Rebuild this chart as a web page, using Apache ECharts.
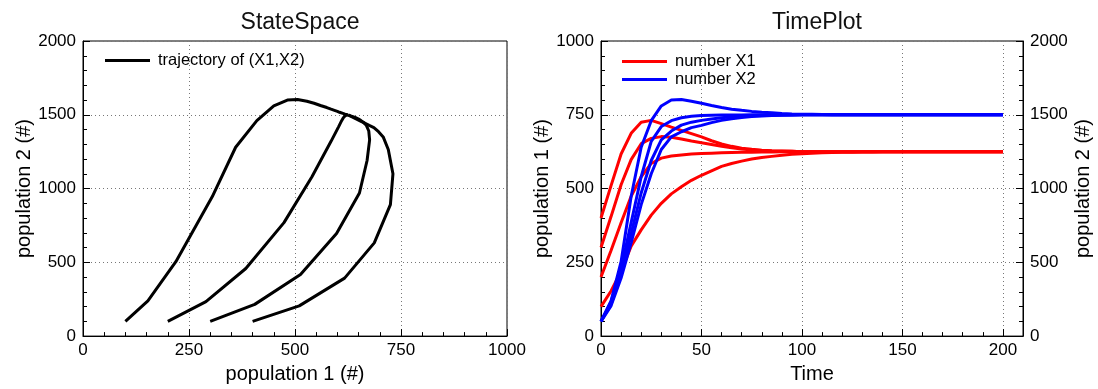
<!DOCTYPE html>
<html><head><meta charset="utf-8">
<script src="https://cdn.jsdelivr.net/npm/echarts@6/dist/echarts.min.js"></script>
<style>html,body{margin:0;padding:0;background:#fff}#c{width:1098px;height:389px}</style>
</head><body><div id="c"></div>
<script>
// time samples
const T = [0,5,10,15,20,25,30,35,40,45,50,55,60,65,70,75,80,85,90,95,100,105,110,115,120,125,130,135,140,145,150,155,160,165,170,175,180,185,190,195,200];

// run A: X1(0)=100
const X1_A = [100,153,219,305,360,410,450,482,506,528,545,560,575,585,593,600,605,609,613,616,618,620,621,622,623,623,624,624,625,625,625,625,625,625,625,625,625,625,625,625,625];
const X2_A = [100,239,504,946,1280,1460,1560,1600,1603,1592,1578,1563,1549,1538,1530,1523,1517,1513,1509,1506,1504,1503,1502,1501,1501,1500,1500,1500,1500,1500,1500,1500,1500,1500,1500,1500,1500,1500,1500,1500,1500];
// run B: X1(0)=200
const X1_B = [200,290,384,474,540,585,603,610,614,617,619,620,621,622,623,623,624,624,625,625,625,625,625,625,625,625,625,625,625,625,625,625,625,625,625,625,625,625,625,625,625];
const X2_B = [100,234,458,769,1080,1320,1420,1460,1480,1490,1495,1497,1498,1499,1499,1500,1500,1500,1500,1500,1500,1500,1500,1500,1500,1500,1500,1500,1500,1500,1500,1500,1500,1500,1500,1500,1500,1500,1500,1500,1500];
// run C: X1(0)=300
const X1_C = [300,405,513,598,652,670,676,674,668,661,655,649,643,638,634,631,629,627,626,626,625,625,625,625,625,625,625,625,625,625,625,625,625,625,625,625,625,625,625,625,625];
const X2_C = [100,215,418,695,970,1190,1330,1390,1430,1450,1462,1472,1480,1486,1490,1493,1495,1497,1498,1499,1500,1500,1500,1500,1500,1500,1500,1500,1500,1500,1500,1500,1500,1500,1500,1500,1500,1500,1500,1500,1500];
// run D: X1(0)=400
const X1_D = [400,510,617,687,725,731,720,708,697,686,675,662,651,643,637,633,630,628,627,626,625,625,625,625,625,625,625,625,625,625,625,625,625,625,625,625,625,625,625,625,625];
const X2_D = [100,205,393,632,891,1100,1265,1350,1385,1413,1428,1447,1462,1473,1482,1488,1492,1495,1497,1499,1500,1500,1500,1500,1500,1500,1500,1500,1500,1500,1500,1500,1500,1500,1500,1500,1500,1500,1500,1500,1500];

const RUNS = [[X1_A,X2_A],[X1_B,X2_B],[X1_C,X2_C],[X1_D,X2_D]];

const TITLES = ['StateSpace','TimePlot'];
const NAME_TRAJ = 'trajectory of (X1,X2)';
const NAME_X1 = 'number X1';
const NAME_X2 = 'number X2';

const FONT = '"Liberation Sans", Arial, Helvetica, sans-serif';
const TXT = '#000';
const plain = v => String(v);
const lbl = {color: TXT, fontFamily: FONT, fontSize: 17, formatter: plain};
const nameStyle = {color: TXT, fontFamily: FONT, fontSize: 20};
const split = {show: true, lineStyle: {color: '#777', type: [1,3], width: 1}};
const aline = {show: true, onZero: false, lineStyle: {color: '#000', width: 1}};
const tick = {show: true, inside: true, length: 7, lineStyle: {color: '#000'}};
const minor = {show: true, splitNumber: 5, length: 4, lineStyle: {color: '#000'}};

const series = [];
RUNS.forEach(([a,b]) => {
  series.push({type:'line', name: NAME_TRAJ, xAxisIndex:0, yAxisIndex:0, showSymbol:false, symbol:'none',
    lineStyle:{color:'#000', width:3}, itemStyle:{color:'#000'},
    data: a.map((v,k)=>[v, b[k]])});
});
RUNS.forEach(([a,b]) => {
  series.push({type:'line', name: NAME_X1, xAxisIndex:1, yAxisIndex:1, showSymbol:false, symbol:'none',
    lineStyle:{color:'#ff0000', width:3}, itemStyle:{color:'#ff0000'},
    data: T.map((t,k)=>[t, a[k]])});
});
RUNS.forEach(([a,b]) => {
  series.push({type:'line', name: NAME_X2, xAxisIndex:1, yAxisIndex:2, showSymbol:false, symbol:'none',
    lineStyle:{color:'#0000ff', width:3}, itemStyle:{color:'#0000ff'},
    data: T.map((t,k)=>[t, b[k]])});
});

const chart = echarts.init(document.getElementById('c'), null, {renderer:'canvas'});
chart.setOption({
  animation: false,
  backgroundColor: '#fff',
  title: [
    {text: TITLES[0], left: 295, textAlign: 'center', top: 6, textStyle:{fontFamily: FONT, fontSize: 23, fontWeight:'normal', color:'#111'}},
    {text: TITLES[1], left: 812, textAlign: 'center', top: 6, textStyle:{fontFamily: FONT, fontSize: 23, fontWeight:'normal', color:'#111'}}
  ],
  legend: [
    {data:[NAME_TRAJ], left: 105, top: 52, padding: 0, icon:'rect', itemWidth:45, itemHeight:3, itemGap:9,
     textStyle:{fontFamily: FONT, fontSize: 16.5, color: TXT, padding:[0,0,0,3]}},
    {data:[NAME_X1, NAME_X2], orient:'vertical', left: 622, top: 53, padding: 0, icon:'rect', itemWidth:45, itemHeight:3, itemGap:1,
     textStyle:{fontFamily: FONT, fontSize: 16.5, color: TXT, padding:[0,0,0,3]}}
  ],
  grid: [
    {left: 83, top: 41, width: 424, height: 302, show:true, borderColor:'#000', borderWidth:1, backgroundColor:'transparent'},
    {left: 601, top: 41, width: 422, height: 302, show:true, borderColor:'#000', borderWidth:1, backgroundColor:'transparent'}
  ],
  xAxis: [
    {type:'value', gridIndex:0, min:0, max:1000, interval:250, axisLine:aline, axisTick:tick, minorTick:minor,
     splitLine:split, axisLabel:Object.assign({}, lbl, {margin:6}),
     name:'population 1 (#)', nameLocation:'middle', nameGap:26, nameTextStyle:nameStyle},
    {type:'value', gridIndex:1, min:0, max:210, interval:50, axisLine:aline, axisTick:tick, minorTick:{show:false},
     splitLine:split, axisLabel:Object.assign({}, lbl, {margin:6, formatter: v => (v % 50 === 0 ? String(v) : '')}),
     name:'Time', nameLocation:'middle', nameGap:26, nameTextStyle:nameStyle},
    {type:'value', gridIndex:1, min:0, max:210, interval:10, position:'bottom', axisLine:{show:false},
     axisTick:{show:true, inside:true, length:4, lineStyle:{color:'#000'}}, axisLabel:{show:false}, splitLine:{show:false}}
  ],
  yAxis: [
    {type:'value', gridIndex:0, min:0, max:2000, interval:500, axisLine:aline, axisTick:tick, minorTick:minor,
     splitLine:split, axisLabel:Object.assign({}, lbl, {margin:7}),
     name:'population 2 (#)', nameLocation:'middle', nameGap:48, nameTextStyle:nameStyle},
    {type:'value', gridIndex:1, min:0, max:1000, interval:250, position:'left', axisLine:aline, axisTick:tick, minorTick:minor,
     splitLine:split, axisLabel:Object.assign({}, lbl, {margin:7}),
     name:'population 1 (#)', nameLocation:'middle', nameGap:43, nameTextStyle:nameStyle},
    {type:'value', gridIndex:1, min:0, max:2000, interval:500, position:'right', axisLine:aline, axisTick:tick, minorTick:minor,
     splitLine:{show:false}, axisLabel:Object.assign({}, lbl, {margin:7}),
     name:'population 2 (#)', nameLocation:'middle', nameGap:50, nameRotate: 90, nameTextStyle:nameStyle}
  ],
  series: series
});
</script></body></html>
